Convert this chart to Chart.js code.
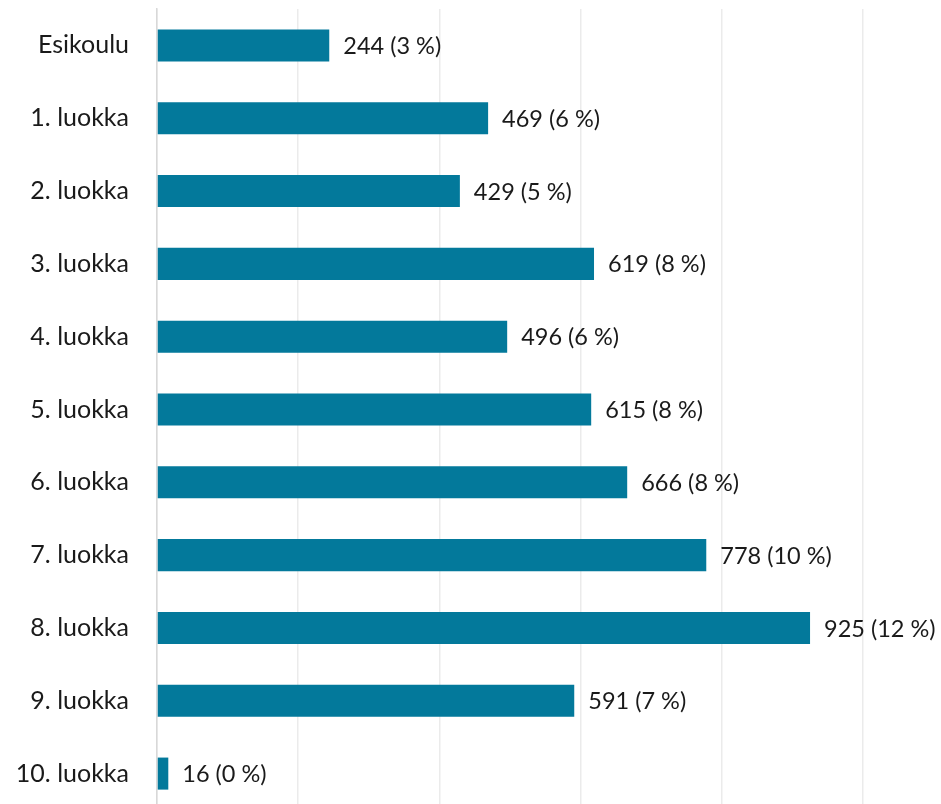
<!DOCTYPE html>
<html>
<head>
<meta charset="utf-8">
<script src="https://cdn.jsdelivr.net/npm/chart.js@4"></script>
<style>
  html, body { margin: 0; padding: 0; background: #fff; overflow: hidden; }
  #wrap { width: 941px; height: 810px; position: relative; }
</style>
</head>
<body>
<div id="wrap"><canvas id="chart"></canvas></div>
<script>
const categories = ["Esikoulu", "1. luokka", "2. luokka", "3. luokka", "4. luokka", "5. luokka",
    "6. luokka", "7. luokka", "8. luokka", "9. luokka", "10. luokka"];
const counts = [244, 469, 429, 619, 496, 615, 666, 778, 925, 591, 16];
const percents = [3, 6, 5, 8, 6, 8, 8, 10, 12, 7, 0];

const valueLabels = {
    id: "valueLabels",
    afterDatasetsDraw(chart) {
        const ctx = chart.ctx;
        const meta = chart.getDatasetMeta(0);
        ctx.save();
        ctx.font = "23.5px Lato";
        ctx.fillStyle = "#1a1a1a";
        ctx.textBaseline = "middle";
        ctx.textAlign = "left";
        meta.data.forEach((bar, i) => {
            ctx.fillText(counts[i] + " (" + percents[i] + " %)", bar.x + 14, bar.y + 1);
        });
        ctx.restore();
    }
};

new Chart(document.getElementById("chart"), {
    type: "bar",
    data: {
        labels: categories,
        datasets: [{
            data: counts,
            backgroundColor: "#03799b",
            barPercentage: 0.44,
            categoryPercentage: 1
        }]
    },
    options: {
        indexAxis: "y",
        responsive: true,
        maintainAspectRatio: false,
        animation: false,
        layout: { padding: { top: 9, right: 78, bottom: 0, left: 0 } },
        plugins: { legend: { display: false }, tooltip: { enabled: false } },
        scales: {
            x: {
                min: 0,
                max: 1000,
                ticks: { display: false, stepSize: 200 },
                grid: { color: "#ebebeb", lineWidth: 1.5, drawTicks: false },
                border: { display: false }
            },
            y: {
                ticks: { color: "#1a1a1a", font: { family: "Lato", size: 25 }, padding: 28 },
                grid: { display: false, drawTicks: false },
                border: { color: "#d8d8d8", width: 1.5 },
                afterFit(scale) {
                    scale.width = 157;
                    scale.paddingTop = 0;
                    scale.paddingBottom = 0;
                }
            }
        }
    },
    plugins: [valueLabels]
});
</script>
</body>
</html>
